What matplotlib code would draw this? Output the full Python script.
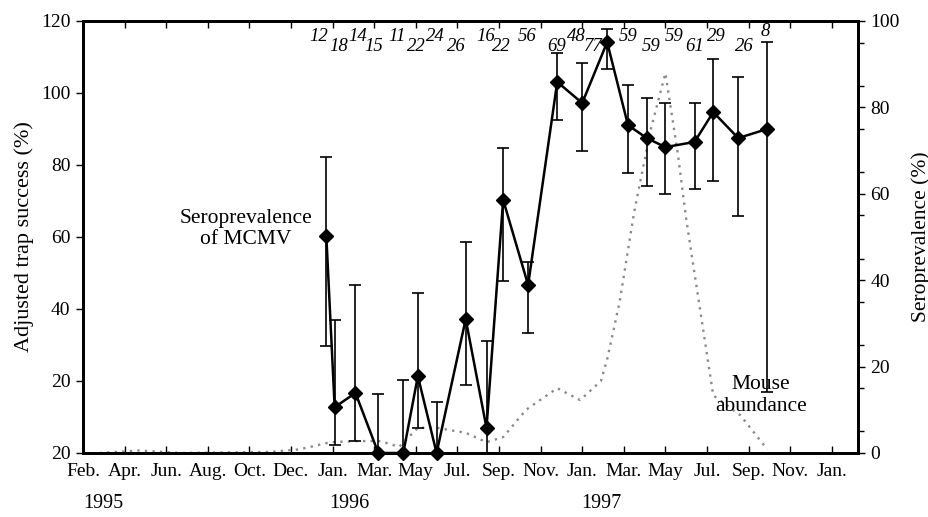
import matplotlib
matplotlib.use("Agg")
import matplotlib.pyplot as plt
import matplotlib.transforms as mtransforms

# months counted from Feb. 1995 (tick every 2 units)
tick_labels = ['Feb.', 'Apr.', 'Jun.', 'Aug.', 'Oct.', 'Dec.', 'Jan.', 'Mar.', 'May', 'Jul.',
               'Sep.', 'Nov.', 'Jan.', 'Mar.', 'May', 'Jul.', 'Sep.', 'Nov.', 'Jan.']
year_labels = ['1995', '1996', '1997']
year_pos = [1.0, 12.8, 24.9]

# seroprevalence of MCMV (right axis, %)
sero_x = [11.7, 12.1, 13.1, 14.2, 15.4, 16.1, 17.0, 18.4, 19.4, 20.2, 21.4,
          22.8, 24.0, 25.2, 26.2, 27.1, 28.0, 29.4, 30.3, 31.5, 32.9]
sero = [50.2, 10.6, 13.9, 0, 0, 17.8, 0, 31.0, 5.8, 58.6, 38.9,
        85.9, 81.0, 95.1, 75.9, 72.9, 70.8, 72.0, 78.9, 72.9, 75.0]
sero_hi = [68.5, 30.8, 38.9, 13.7, 16.9, 37.0, 11.8, 48.8, 26.0, 70.6, 44.2,
           92.6, 90.3, 98.1, 85.2, 82.2, 81.0, 81.0, 91.2, 87.0, 95.1]
sero_lo = [24.8, 1.9, 2.8, 0, 0, 5.8, 0, 15.7, 0, 39.8, 27.8,
           77.0, 70.0, 89.0, 64.8, 61.8, 60.0, 61.1, 63.0, 54.9, 14.1]
sample_n = ['12', '18', '14', '15', '11', '22', '24', '26', '16', '22', '56',
            '69', '48', '77', '59', '59', '59', '61', '29', '26', '8']

# mouse abundance (left axis, adjusted trap success %)
mouse_x = [0.8, 2.7, 4.7, 9.0, 10.4, 11.9, 13.1, 14.3, 15.2, 16.1, 17.0, 18.4, 19.4,
           20.2, 21.3, 22.8, 23.9, 24.9, 25.2, 25.8, 26.5, 27.3, 28.0, 28.6, 29.0,
           30.3, 31.6, 32.9]
mouse = [0, 0.7, 0, 0.3, 1.0, 3.0, 3.3, 3.3, 1.7, 7.0, 7.0, 5.6, 3.0,
         4.4, 12.0, 18.0, 14.7, 20.0, 26.0, 42.0, 67.0, 90.0, 105.5, 83.0, 65.0,
         16.0, 10.5, 1.0]

# small horizontal nudges (pixels) for the sample-size labels
label_dx = [-8, 4, 2, -5, -6, -2, -1, -9, -1, -2, -1, -1, -6, -14, 0, 4, 9, 0, 3, 6, -2]

plt.rcParams['font.family'] = ['Liberation Serif', 'DejaVu Serif']
plt.rcParams['font.size'] = 14

fig = plt.figure(figsize=(9.29, 5.17), dpi=100)
ax = fig.add_axes([0.0893, 0.1238, 0.8343, 0.8356])
ax2 = ax.twinx()

ax.plot(mouse_x, mouse, color='#8a8a8a', linestyle=(0, (1, 2.2)), linewidth=1.7)

err = [[s - l for s, l in zip(sero, sero_lo)], [h - s for s, h in zip(sero, sero_hi)]]
ax2.errorbar(sero_x, sero, yerr=err, color='black', linewidth=1.8, elinewidth=1.2,
             capsize=4.5, capthick=1.2, marker='D', markersize=7, clip_on=False, zorder=3)

trans_n = mtransforms.blended_transform_factory(ax2.transData, ax2.transAxes)
for i, (x, n) in enumerate(zip(sero_x, sample_n)):
    yy = 0.965 if i % 2 == 0 else 0.940
    if n == '8':
        yy = 0.975
    t = mtransforms.offset_copy(trans_n, fig=fig, x=label_dx[i], y=0, units='dots')
    ax2.text(x, yy, n, transform=t, ha='center', va='center', style='italic', fontsize=13.5)

ax.set_xlim(0, 37.26)
ax.set_ylim(0, 120)
ax2.set_ylim(0, 100)

ax.set_xticks(range(0, 37, 2))
ax.set_xticklabels(tick_labels)
ax.set_yticks([0, 20, 40, 60, 80, 100, 120])
ax.set_yticklabels(['20', '20', '40', '60', '80', '100', '120'])
ax2.set_yticks([0, 20, 40, 60, 80, 100])
ax2.set_yticks(range(5, 100, 10), minor=True)

ax.tick_params(axis='x', direction='in', length=5, width=1, pad=7, top=True)
ax.tick_params(axis='y', direction='out', length=5, width=1, pad=4)
ax2.tick_params(axis='y', which='major', direction='out', length=5, width=1, pad=4)
ax2.tick_params(axis='y', which='minor', direction='out', length=4, width=1)

for a in (ax, ax2):
    for sp in a.spines.values():
        sp.set_linewidth(2)

ax.set_ylabel('Adjusted trap success (%)', fontsize=16, labelpad=5)
ax2.set_ylabel('Seroprevalence (%)', fontsize=15.5, labelpad=8)

trans = mtransforms.blended_transform_factory(ax.transData, ax.transAxes)
for x, lab in zip(year_pos, year_labels):
    ax.text(x, -0.116, lab, transform=trans, ha='center', va='center', fontsize=14.5)

ax.text(0.21, 0.5185, 'Seroprevalence\nof MCMV', transform=ax.transAxes,
        ha='center', va='center', fontsize=15.5, linespacing=1.15)
ax.text(0.875, 0.134, 'Mouse\nabundance', transform=ax.transAxes,
        ha='center', va='center', fontsize=15.5, linespacing=1.2)

fig.savefig('out.png', dpi=100)
